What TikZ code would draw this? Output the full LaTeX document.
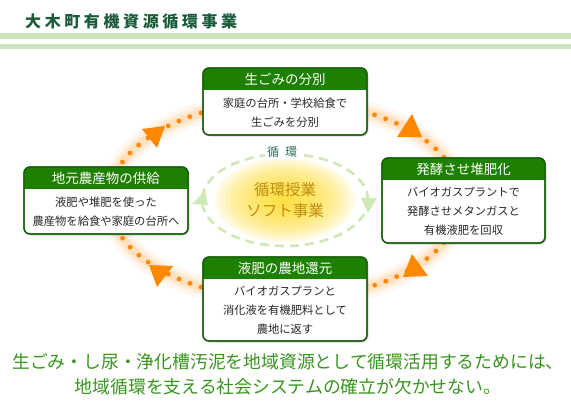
\documentclass[tikz,border=0pt]{standalone}
\usepackage{fontspec}
\newfontfamily\jp{Noto Sans CJK JP}
\usetikzlibrary{shadows}
\definecolor{hdr}{RGB}{30,128,0}
\definecolor{bord}{RGB}{22,92,10}
\definecolor{orng}{RGB}{255,136,0}
\definecolor{lgreen}{RGB}{206,232,182}
\definecolor{stripec}{RGB}{205,228,186}
\definecolor{titlec}{RGB}{26,92,58}
\definecolor{gold}{RGB}{190,140,10}
\definecolor{tealc}{RGB}{46,110,94}
\definecolor{bottomc}{RGB}{56,150,30}
\definecolor{bodyc}{RGB}{40,40,40}
\definecolor{yc1}{RGB}{255,222,40}
\tikzset{
  card/.style={draw=bord, line width=1.3pt, rounded corners=6pt, fill=white, outer sep=0pt, inner sep=0pt,
    drop shadow={opacity=0.3, shadow xshift=1.5pt, shadow yshift=-1.5pt}},
  cardline/.style={draw=bord, line width=1.3pt, rounded corners=6pt},
  hdrtext/.style={font=\jp\fontsize{13.5}{16}\selectfont, text=white, inner sep=0pt},
  bodytext/.style={font=\jp\fontsize{11.3}{19}\selectfont, text=bodyc, align=center, inner sep=0pt},
  msgtext/.style={font=\jp\fontsize{17.8}{20}\selectfont, text=bottomc, inner sep=0pt},
  orangetri/.style={fill=orng},
  greentri/.style={fill=lgreen},
}
\newcommand\mycard[7]{%
  \node[card, minimum width=#4pt, minimum height=#5pt] (#1) at (#2,#3) {};
  \begin{scope}
    \clip[rounded corners=6pt] (#1.north west) rectangle (#1.south east);
    \fill[hdr] (#1.north west) rectangle ([yshift=-22pt]#1.north east);
  \end{scope}
  \draw[cardline] (#1.north west) rectangle (#1.south east);
  \node[hdrtext] (#1-h) at ([yshift=-11pt]#1.north) {#6};
  \node[bodytext] (#1-b) at ([yshift=-11pt]#1.center) {#7};
}
\begin{document}
\begin{tikzpicture}[x=1pt,y=-1pt]
\useasboundingbox (0,0) rectangle (571,418);
\fill[white] (0,0) rectangle (571,418);
% stripes
\fill[stripec] (0,33) rectangle (571,39);
\fill[stripec] (0,44) rectangle (571,49);
% title
\node[anchor=west, font=\jp\bfseries\fontsize{16}{18}\selectfont, text=titlec, inner sep=0pt] (title) at (25,21)
 {大\kern3.6pt 木\kern3.6pt 町\kern3.6pt 有\kern3.6pt 機\kern3.6pt 資\kern3.6pt 源\kern3.6pt 循\kern3.6pt 環\kern3.6pt 事\kern3.6pt 業};
% orange cycle glow and dots
\draw[orng, opacity=0.06, line width=22pt] (285,200) ellipse [x radius=176pt, y radius=99pt];
\draw[orng, opacity=0.09, line width=14pt] (285,200) ellipse [x radius=176pt, y radius=99pt];
\draw[orng, opacity=0.12, line width=8pt] (285,200) ellipse [x radius=176pt, y radius=99pt];
\draw[orng, line width=4.8pt, line cap=round, dash pattern=on 0pt off 11.75pt] (285,200) ellipse [x radius=176pt, y radius=99pt];
% inner glow
\foreach \k in {1,...,14}
  \fill[yc1, opacity=0.12] (285,200) ellipse [x radius={5*\k pt}, y radius={3*\k pt}];
\draw[lgreen, line width=2.6pt, dash pattern=on 9pt off 6pt] (285,200) ellipse [x radius=83pt, y radius=46pt];
\fill[greentri] (192,204) -- (205,191) -- (208,205) -- cycle;
\fill[greentri] (361,198) -- (377,198) -- (368,213) -- cycle;
\node[fill=white, inner sep=2pt, text=tealc, font=\jp\fontsize{12}{14}\selectfont] (cyc) at (282,152) {循\kern6pt 環};
\node[font=\jp\fontsize{15.5}{21}\selectfont, text=gold, align=center, inner sep=0pt] (core) at (285,200) {循環授業\\ソフト事業};
% cards
\mycard{topc}{285}{101.5}{164}{67}{生ごみの分別}{家庭の台所・学校給食で\\生ごみを分別}
\mycard{rightc}{463.5}{200.5}{163}{85}{発酵させ堆肥化}{バイオガスプラントで\\発酵させメタンガスと\\有機液肥を回収}
\mycard{leftc}{106}{200.5}{164}{67}{地元農産物の供給}{液肥や堆肥を使った\\農産物を給食や家庭の台所へ}
\mycard{botc}{285}{299}{164}{84}{液肥の農地還元}{バイオガスプランと\\消化液を有機肥料として\\農地に返す}
% orange arrowheads
\fill[orangetri] (142,129) -- (165,126) -- (157,148) -- cycle;
\fill[orangetri] (397,137) -- (422,137) -- (412,114) -- cycle;
\fill[orangetri] (403,277) -- (428,276) -- (412,254) -- cycle;
\fill[orangetri] (149,265) -- (173,266) -- (157,287) -- cycle;
% bottom message
\node[msgtext] (msg1) at (288,362) {生ごみ・し尿・浄化槽汚泥を地域資源として循環活用するためには、};
\node[msgtext] (msg2) at (288,387) {地域循環を支える社会システムの確立が欠かせない。};
\end{tikzpicture}
\end{document}
